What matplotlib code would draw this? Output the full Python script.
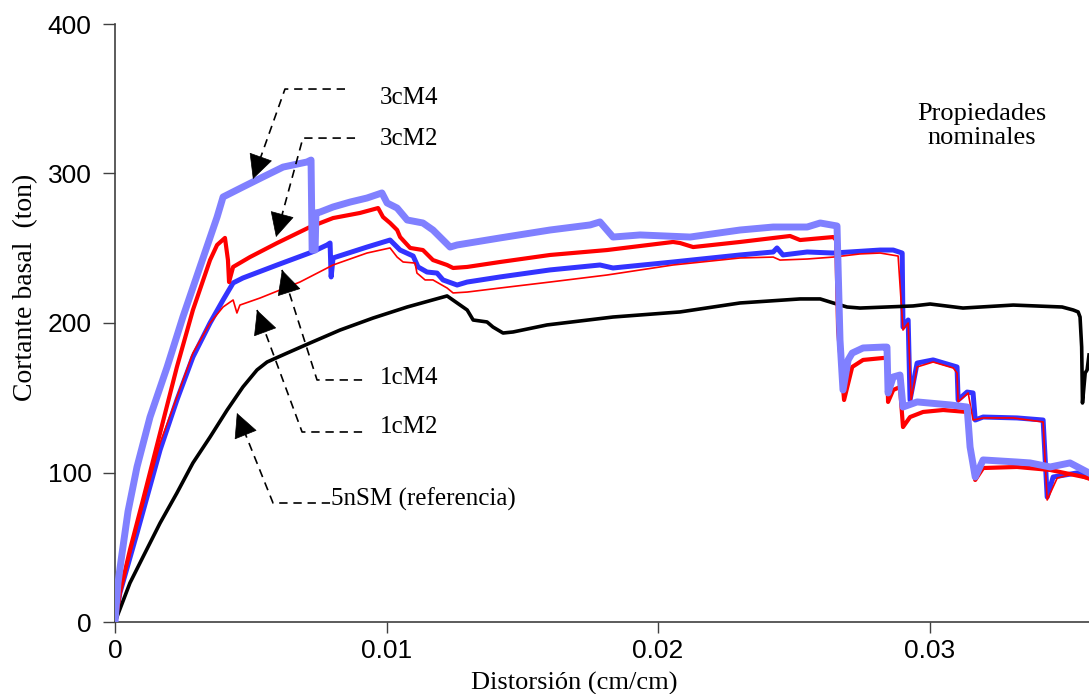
import matplotlib
matplotlib.use("Agg")
import matplotlib.pyplot as plt

# distorsion (cm/cm) vs cortante basal (ton)
x3cM4 = [0, 0.00011, 0.00026, 0.00048, 0.00081, 0.00129, 0.00192, 0.00250, 0.00313, 0.00376,
         0.00398, 0.00471, 0.00545, 0.00619, 0.00707, 0.00722, 0.00726, 0.00737, 0.00740, 0.00755,
         0.00803, 0.00866, 0.00928, 0.00983, 0.01002, 0.01039, 0.01076, 0.01134, 0.01171, 0.01234,
         0.01260, 0.01418, 0.01602, 0.01750, 0.01786, 0.01834, 0.01934, 0.02118, 0.02302, 0.02424,
         0.02549, 0.02597, 0.02659, 0.02670, 0.02681, 0.02700, 0.02715, 0.02755, 0.02829, 0.02843,
         0.02847, 0.02866, 0.02891, 0.02902, 0.02954, 0.03076, 0.03138, 0.03149, 0.03168, 0.03197,
         0.03322, 0.03370, 0.03444, 0.03517, 0.03587]
y3cM4 = [0, 26.1, 46.0, 74.0, 103.7, 137.1, 170.6, 204.0, 237.5, 270.9,
         284.3, 291.0, 297.7, 304.3, 307.7, 309.0, 248.8, 248.8, 273.6, 274.2,
         277.6, 280.9, 283.6, 287.0, 280.3, 276.9, 268.9, 266.9, 262.2, 250.8,
         252.2, 256.9, 262.2, 265.6, 267.6, 257.5, 258.9, 257.5, 262.2, 264.2,
         264.2, 266.9, 264.9, 188.6, 155.2, 175.3, 179.9, 183.3, 183.9, 183.9,
         153.2, 163.9, 165.2, 143.8, 147.2, 145.2, 143.8, 117.1, 97.0, 108.4,
         107.0, 106.4, 103.7, 106.4, 99.7]

x3cM2 = [0, 0.00011, 0.00018, 0.00055, 0.00103, 0.00166, 0.00228, 0.00287, 0.00350, 0.00376,
         0.00405, 0.00416, 0.00420, 0.00435, 0.00497, 0.00597, 0.00718, 0.00803, 0.00902, 0.00969,
         0.00987, 0.01013, 0.01039, 0.01050, 0.01087, 0.01134, 0.01171, 0.01223, 0.01245, 0.01297,
         0.01418, 0.01602, 0.01812, 0.02055, 0.02081, 0.02129, 0.02302, 0.02486, 0.02523, 0.02645,
         0.02656, 0.02663, 0.02685, 0.02715, 0.02755, 0.02829, 0.02843, 0.02847, 0.02866, 0.02891,
         0.02902, 0.02928, 0.02976, 0.03050, 0.03138, 0.03149, 0.03168, 0.03197, 0.03322, 0.03444,
         0.03587]
y3cM2 = [0, 11.4, 19.4, 48.2, 81.6, 126.4, 170.6, 208.7, 242.1, 252.2,
         256.9, 242.1, 227.4, 237.5, 244.1, 253.5, 264.2, 270.2, 273.6, 276.9,
         270.9, 266.9, 262.2, 257.5, 250.2, 248.8, 242.1, 238.8, 236.8, 237.5,
         240.8, 245.5, 248.8, 254.2, 253.5, 250.8, 254.2, 258.2, 255.5, 257.5,
         255.5, 195.3, 148.5, 170.6, 175.3, 176.6, 176.6, 147.2, 155.2, 157.2,
         130.4, 137.1, 140.5, 141.8, 140.5, 115.1, 95.0, 103.0, 103.7, 101.7,
         96.3]

x1cM4 = [0, 0.00007, 0.00018, 0.00081, 0.00166, 0.00228, 0.00287, 0.00350, 0.00398, 0.00435,
         0.00471, 0.00597, 0.00726, 0.00781, 0.00792, 0.00796, 0.00803, 0.00928, 0.01013, 0.01050,
         0.01098, 0.01116, 0.01149, 0.01186, 0.01208, 0.01260, 0.01297, 0.01418, 0.01602, 0.01786,
         0.01834, 0.02055, 0.02302, 0.02424, 0.02438, 0.02460, 0.02549, 0.02645, 0.02818, 0.02866,
         0.02899, 0.02902, 0.02921, 0.02928, 0.02954, 0.03013, 0.03101, 0.03105, 0.03138, 0.03160,
         0.03168, 0.03197, 0.03322, 0.03418, 0.03433, 0.03455, 0.03543, 0.03587]
y1cM4 = [0, 8.0, 19.4, 59.5, 115.1, 148.5, 177.3, 200.0, 215.4, 226.8,
         230.1, 238.8, 247.5, 252.2, 253.5, 230.8, 243.5, 250.8, 255.5, 248.8,
         244.8, 237.5, 234.1, 233.4, 228.8, 225.4, 227.4, 230.8, 235.5, 238.8,
         236.8, 240.8, 245.5, 247.5, 250.2, 245.5, 247.5, 246.8, 248.8, 248.8,
         246.8, 197.3, 202.0, 148.5, 173.2, 175.3, 170.6, 148.5, 153.8, 153.2,
         135.1, 137.1, 136.5, 135.1, 83.6, 97.0, 99.7, 97.0]

x1cM2 = [0, 0.00011, 0.00018, 0.00081, 0.00166, 0.00228, 0.00287, 0.00350, 0.00398, 0.00435,
         0.00449, 0.00460, 0.00534, 0.00681, 0.00803, 0.00928, 0.01013, 0.01039, 0.01061, 0.01105,
         0.01112, 0.01142, 0.01171, 0.01223, 0.01245, 0.01297, 0.01418, 0.01602, 0.01812, 0.02055,
         0.02302, 0.02424, 0.02449, 0.02549, 0.02645, 0.02744, 0.02818, 0.02884, 0.02902, 0.02921,
         0.02932, 0.02954, 0.03013, 0.03087, 0.03101, 0.03105, 0.03142, 0.03160, 0.03197, 0.03308,
         0.03418, 0.03433, 0.03470, 0.03529, 0.03587]
y1cM2 = [0, 10.0, 18.1, 63.5, 119.7, 150.5, 179.9, 200.0, 210.7, 215.4,
         206.7, 212.0, 216.7, 227.4, 238.8, 246.8, 250.2, 244.1, 240.8, 240.1,
         233.4, 228.8, 228.8, 223.4, 220.1, 220.7, 223.4, 227.4, 232.1, 238.8,
         243.5, 244.1, 242.1, 242.8, 244.1, 246.2, 246.8, 244.8, 195.3, 200.0,
         148.5, 170.6, 173.9, 169.9, 166.6, 147.2, 153.2, 135.1, 136.5, 136.5,
         133.8, 81.6, 96.3, 99.0, 95.0]

x5nSM = [0, 0.00007, 0.00055, 0.00103, 0.00166, 0.00228, 0.00287, 0.00350, 0.00413, 0.00471,
         0.00523, 0.00560, 0.00634, 0.00718, 0.00829, 0.00950, 0.01076, 0.01223, 0.01260, 0.01297,
         0.01319, 0.01370, 0.01392, 0.01429, 0.01466, 0.01591, 0.01834, 0.02081, 0.02302, 0.02523,
         0.02597, 0.02645, 0.02696, 0.02744, 0.02939, 0.03002, 0.03123, 0.03308, 0.03488, 0.03529,
         0.03547, 0.03554, 0.03560, 0.03563, 0.03573, 0.03580, 0.03587]
y5nSM = [0, 3.3, 26.1, 43.5, 66.2, 86.3, 106.4, 123.7, 141.8, 157.2,
         168.6, 173.9, 179.9, 186.6, 195.3, 203.3, 210.7, 218.1, 213.4, 208.7,
         202.0, 200.7, 197.3, 193.3, 194.0, 198.7, 204.0, 207.4, 213.4, 216.1,
         216.1, 213.4, 210.7, 210.0, 211.4, 212.7, 210.0, 212.0, 210.7, 208.7,
         207.4, 204.0, 183.9, 146.5, 166.6, 168.6, 178.6]

# etiquetas de las curvas: texto, punta de flecha, quiebre, fin de la linea horizontal
labelNames = ["3cM4", "3cM2", "1cM4", "1cM2", "5nSM (referencia)"]
labelTips = [(0.00508, 296.3), (0.00593, 257.5), (0.00615, 235.5), (0.00523, 208.7), (0.00449, 139.8)]
labelCorners = [(0.00626, 356.5), (0.00692, 323.7), (0.00744, 161.9), (0.00689, 127.1), (0.00582, 79.6)]
labelEnds = [0.00847, 0.00884, 0.00910, 0.00910, 0.00792]
labelText = [(0.00976, 350.5), (0.00976, 323.0), (0.00976, 163.2), (0.00976, 130.4), (0.00794, 82.3)]

xTicks = [0, 0.01, 0.02, 0.03]
xTickLabels = ["0", "0.01", "0.02", "0.03"]
yTicks = [0, 100, 200, 300, 400]

serif = "Liberation Serif"
sans = "Liberation Sans"

fig = plt.figure(figsize=(10.89, 6.94), dpi=100)
ax = fig.add_axes([115 / 1089, 72 / 694, 974 / 1089, 598 / 694])

ax.plot(x1cM4, y1cM4, color="#3333ff", lw=3.6, zorder=2)
ax.plot(x1cM2, y1cM2, color="#ff0000", lw=1.2, zorder=3)
ax.plot(x5nSM, y5nSM, color="black", lw=2.6, zorder=4)
ax.plot(x3cM2, y3cM2, color="#ff0000", lw=3.0, zorder=5)
ax.plot(x3cM4, y3cM4, color="#8080ff", lw=5.0, zorder=6)

for name, tip, corner, xEnd, txt in zip(labelNames, labelTips, labelCorners, labelEnds, labelText):
    ax.plot([xEnd, corner[0], tip[0]], [corner[1], corner[1], tip[1]], color="black",
            lw=1.2, dashes=(5, 3.5), zorder=7, clip_on=False)
    # punta de flecha solida al final de la linea diagonal
    back = (tip[0] + 0.18 * (corner[0] - tip[0]), tip[1] + 0.18 * (corner[1] - tip[1]))
    ax.annotate("", xy=tip, xytext=back,
                arrowprops=dict(arrowstyle="-|>,head_length=0.9,head_width=0.45", color="black",
                                lw=0.5, shrinkA=0, shrinkB=0, mutation_scale=18), zorder=8)
    ax.text(txt[0], txt[1], name, ha="left", va="center", fontsize=18, family=serif, zorder=8)

ax.text(0.03193, 331.8, "Propiedades\nnominales", ha="center", va="center", fontsize=19,
        family=serif, linespacing=1.15)

ax.set_xlim(0, 0.03587)
ax.set_ylim(0, 400)
ax.set_xticks(xTicks)
ax.set_xticklabels(xTickLabels)
ax.set_yticks(yTicks)
for lbl in ax.get_xticklabels() + ax.get_yticklabels():
    lbl.set_family(sans)
    lbl.set_fontsize(19)
ax.tick_params(axis="x", length=8, width=1, pad=4, color="#404040")
ax.tick_params(axis="y", length=9, width=1, pad=8, color="#404040")

for side in ["top", "right"]:
    ax.spines[side].set_visible(False)
for side in ["left", "bottom"]:
    ax.spines[side].set_color("#404040")
    ax.spines[side].set_linewidth(1.2)

fig.text(26 / 1089, (694 - 287) / 694, "Cortante basal  (ton)", rotation=90, ha="center",
         va="center", fontsize=20, family=serif)
fig.text(574 / 1089, (694 - 683) / 694, "Distorsión (cm/cm)", ha="center", va="center",
         fontsize=19, family=serif)

fig.savefig("out.png", dpi=100)
